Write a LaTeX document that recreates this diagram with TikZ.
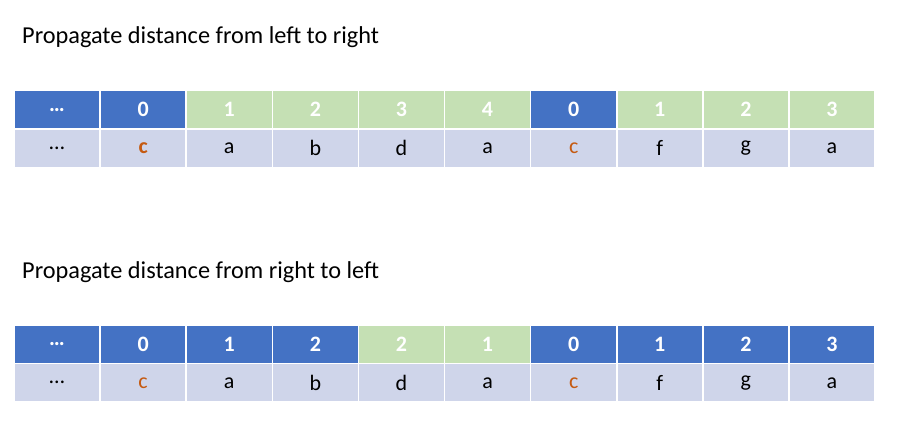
\documentclass[tikz,border=0pt]{standalone}
\usepackage{fontspec}
\setmainfont{Carlito}
\usepackage{xcolor}
\usetikzlibrary{positioning}

\definecolor{cellblue}{HTML}{4472C4}
\definecolor{cellgreen}{HTML}{C5E0B4}
\definecolor{cellgray}{HTML}{CFD5EA}
\definecolor{charorange}{HTML}{C55A11}

\begin{document}
\begin{tikzpicture}[
    x=1pt, y=-1pt,
    node distance=0pt,
    title/.style={anchor=base west, font=\fontsize{24.3}{28}\selectfont, inner sep=0pt},
    cell/.style={rectangle, draw=white, line width=1.6pt, outer sep=0pt, inner sep=0pt,
        minimum width=86.1pt, minimum height=38.5pt},
    hblue/.style={cell, fill=cellblue, text=white, font=\fontsize{22}{24}\selectfont\bfseries},
    hgreen/.style={cell, fill=cellgreen, text=white, font=\fontsize{22}{24}\selectfont\bfseries},
    chr/.style={cell, fill=cellgray, text=black, font=\fontsize{22}{24}\selectfont},
    hit/.style={chr, text=charorange},
    hitbold/.style={hit, font=\fontsize{22}{24}\selectfont\bfseries},
]
    \useasboundingbox (0,0) rectangle (898,425);

    % left to right
    \node[title] (ltr-title) at (22,44) {Propagate distance from left to right};
    \node[hblue, anchor=north west] (ltr-d0) at (14,90.5) {…};
    \foreach \v/\s [count=\i, remember=\i as \j (initially 0)] in
        {0/hblue, 1/hgreen, 2/hgreen, 3/hgreen, 4/hgreen, 0/hblue, 1/hgreen, 2/hgreen, 3/hgreen}
        \node[\s, right=of ltr-d\j] (ltr-d\i) {\v};
    \foreach \c/\s [count=\i from 0] in
        {…/chr, c/hitbold, a/chr, b/chr, d/chr, a/chr, c/hit, f/chr, g/chr, a/chr}
        \node[\s, below=of ltr-d\i] (ltr-c\i) {\c};

    % right to left
    \node[title] (rtl-title) at (22,279) {Propagate distance from right to left};
    \node[hblue, anchor=north west] (rtl-d0) at (14,325) {…};
    \foreach \v/\s [count=\i, remember=\i as \j (initially 0)] in
        {0/hblue, 1/hblue, 2/hblue, 2/hgreen, 1/hgreen, 0/hblue, 1/hblue, 2/hblue, 3/hblue}
        \node[\s, right=of rtl-d\j] (rtl-d\i) {\v};
    \foreach \c/\s [count=\i from 0] in
        {…/chr, c/hit, a/chr, b/chr, d/chr, a/chr, c/hit, f/chr, g/chr, a/chr}
        \node[\s, below=of rtl-d\i] (rtl-c\i) {\c};

\end{tikzpicture}
\end{document}
